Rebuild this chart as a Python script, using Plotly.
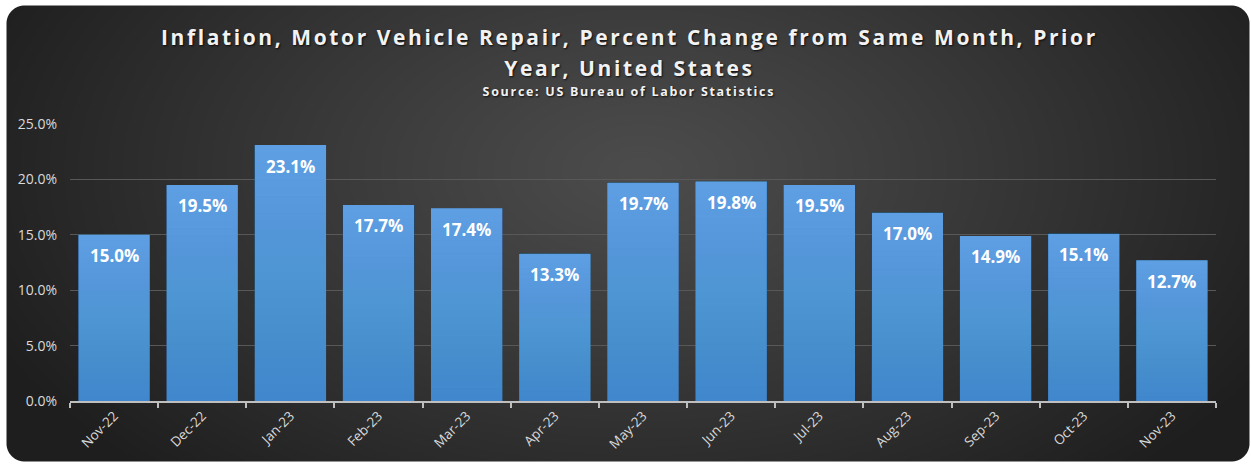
import base64
import struct
import zlib

import numpy as np
import plotly.graph_objects as go

# ---------------- data ----------------
months = ["Nov-22", "Dec-22", "Jan-23", "Feb-23", "Mar-23", "Apr-23", "May-23",
          "Jun-23", "Jul-23", "Aug-23", "Sep-23", "Oct-23", "Nov-23"]
inflation_pct = [15.0, 19.5, 23.1, 17.7, 17.4, 13.3, 19.7, 19.8, 19.5, 17.0, 14.9, 15.1, 12.7]
y_ticks = [0, 5, 10, 15, 20, 25]
title_line1 = "Inflation, Motor Vehicle Repair, Percent Change from Same Month, Prior"
title_line2 = "Year, United States"
subtitle = "Source: US Bureau of Labor Statistics"

# ---------------- layout geometry (pixels) ----------------
W, H = 1251, 464
ML, MR, MT, MB = 70, 35, 124, 63
PW, PH = W - ML - MR, H - MT - MB


def px_x(px):
    return (px - ML) / PW


def px_y(py):
    return (H - MB - py) / PH


# ---------------- background image: radial gradient, rounded rect ----------------
BX0, BY0, BX1, BY1 = 6, 5, 1250, 462
bw, bh = BX1 - BX0, BY1 - BY0
yy, xx = np.mgrid[0:bh, 0:bw].astype(float)
cx, cy = 640 - BX0, 170 - BY0
d = np.sqrt(((xx - cx) / 720.0) ** 2 + ((yy - cy) / 420.0) ** 2)
d = np.clip(d, 0, 1)
val = 76 - (76 - 30) * d ** 1.1
rgb = np.clip(val, 0, 255)
r = 18.0
ax = np.maximum(np.maximum(r - xx, xx - (bw - 1 - r)), 0)
ay = np.maximum(np.maximum(r - yy, yy - (bh - 1 - r)), 0)
dist = np.sqrt(ax ** 2 + ay ** 2)
alpha = np.clip(r - dist + 0.5, 0, 1) * 255
img = np.zeros((bh, bw, 4), dtype=np.uint8)
img[..., 0] = rgb
img[..., 1] = rgb
img[..., 2] = rgb
img[..., 3] = alpha


def png_uri(a):
    h, w, _ = a.shape
    raw = b"".join(b"\x00" + a[i].tobytes() for i in range(h))

    def chunk(t, data):
        c = struct.pack(">I", len(data)) + t + data
        return c + struct.pack(">I", zlib.crc32(t + data) & 0xFFFFFFFF)

    png = b"\x89PNG\r\n\x1a\n"
    png += chunk(b"IHDR", struct.pack(">IIBBBBB", w, h, 8, 6, 0, 0, 0))
    png += chunk(b"IDAT", zlib.compress(raw, 9))
    png += chunk(b"IEND", b"")
    return "data:image/png;base64," + base64.b64encode(png).decode()


bg_uri = png_uri(img)

# ---------------- figure ----------------
fig = go.Figure()
# base bar (dark blue at the bottom)
fig.add_trace(go.Bar(
    x=months,
    y=inflation_pct,
    marker=dict(color="#3f86cc", line=dict(width=0)),
    hoverinfo="x+y",
    showlegend=False,
))
# vertical gradient per bar: stacked translucent light-blue layers
N = 30
A_TOP = 0.55
vals = np.array(inflation_pct)
for j in range(1, N + 1):
    a_prev = A_TOP * (j - 1) / N
    a_now = A_TOP * j / N
    layer_alpha = 1 - (1 - a_now) / (1 - a_prev)
    frac = j / N
    fig.add_trace(go.Bar(
        x=months,
        y=list(vals * (1 - frac) + vals / N),
        base=list(vals * frac - vals / N),
        marker=dict(color=f"rgba(140,192,245,{layer_alpha:.4f})", line=dict(width=0)),
        hoverinfo="skip",
        showlegend=False,
    ))

annotations = []
for m, v in zip(months, inflation_pct):
    annotations.append(dict(
        x=m, y=v, xref="x", yref="y", text=f"{v:.1f}%", showarrow=False,
        yanchor="middle", yshift=-21,
        font=dict(family="Open Sans", size=17, color="white", weight="bold"),
    ))

n_bar_labels = len(annotations)
shadow = "1px 1px 2px rgba(0,0,0,0.8)"
annotations += [
    dict(x=px_x(629), y=px_y(37), xref="paper", yref="paper", text=title_line1,
         showarrow=False, xanchor="center", yanchor="middle",
         font=dict(family="Open Sans", size=21, color="#f2f2f2", weight="bold", shadow=shadow)),
    dict(x=px_x(629), y=px_y(68), xref="paper", yref="paper", text=title_line2,
         showarrow=False, xanchor="center", yanchor="middle",
         font=dict(family="Open Sans", size=21, color="#f2f2f2", weight="bold", shadow=shadow)),
    dict(x=px_x(629), y=px_y(91), xref="paper", yref="paper", text=subtitle,
         showarrow=False, xanchor="center", yanchor="middle",
         font=dict(family="Open Sans", size=12.5, color="#f2f2f2", weight="bold", shadow=shadow)),
]

fig.update_layout(
    width=W, height=H,
    margin=dict(l=ML, r=MR, t=MT, b=MB, autoexpand=False),
    paper_bgcolor="white",
    plot_bgcolor="rgba(0,0,0,0)",
    barmode="overlay",
    bargap=0.19,
    annotations=annotations,
    images=[dict(
        source=bg_uri, xref="paper", yref="paper",
        x=px_x(BX0), y=px_y(BY0),
        sizex=px_x(BX1) - px_x(BX0), sizey=px_y(BY0) - px_y(BY1),
        xanchor="left", yanchor="top", sizing="stretch", layer="below",
    )],
    font=dict(family="Open Sans"),
)

fig.update_xaxes(
    showgrid=False, showline=True, linecolor="#bfbfbf", linewidth=1.5,
    ticks="outside", tickson="boundaries", ticklen=5, tickcolor="#bfbfbf", tickwidth=1.5,
    tickangle=-45, tickfont=dict(family="Open Sans", size=13.5, color="#d9d9d9"),
    fixedrange=True,
)
fig.update_yaxes(
    range=[0, 25], tickvals=y_ticks, ticktext=[f"{t:.1f}%" for t in y_ticks],
    showgrid=True, gridcolor="#585858", gridwidth=1, zeroline=False, showline=False,
    ticks="", ticklabelstandoff=12,
    tickfont=dict(family="Open Sans", size=14, color="#d9d9d9"),
    fixedrange=True,
)

post = """
document.body.style.margin = '0';
document.body.style.overflow = 'hidden';
var gd = document.getElementById('{plot_id}');
function spaceTitles() {
  [[%d, '2.6px'], [%d, '2.6px'], [%d, '1.7px']].forEach(function (p) {
    gd.querySelectorAll('.annotation[data-index="' + p[0] + '"] text').forEach(function (t) {
      t.style.letterSpacing = p[1];
    });
  });
}
spaceTitles();
gd.on('plotly_afterplot', spaceTitles);
""" % (n_bar_labels, n_bar_labels + 1, n_bar_labels + 2)

fig.write_html("out.html", post_script=post, config={"displayModeBar": False})
